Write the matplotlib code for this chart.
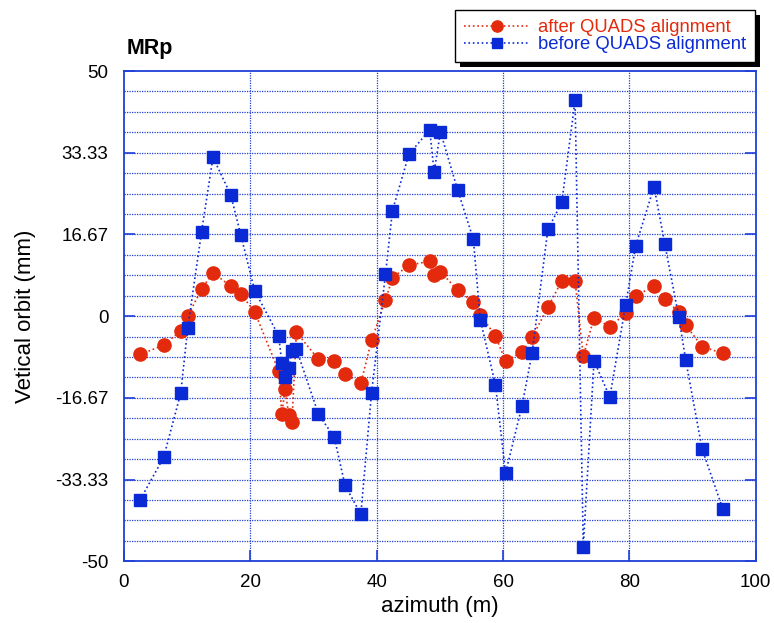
import matplotlib
matplotlib.use("Agg")
import matplotlib.pyplot as plt
from matplotlib.patches import Rectangle
import numpy as np

# donnees
azimuth = [2.6, 6.3, 9.0, 10.1, 12.3, 14.1, 16.9, 18.5, 20.7, 24.5, 25.0, 25.5, 26.1,
           26.6, 27.3, 30.8, 33.3, 35.0, 37.5, 39.2, 41.4, 42.5, 45.1, 48.4, 49.1, 50.1,
           52.8, 55.3, 56.4, 58.8, 60.4, 63.0, 64.6, 67.1, 69.3, 71.4, 72.7, 74.4, 76.9,
           79.4, 81.0, 83.9, 85.6, 87.8, 88.9, 91.5, 94.8]

after_quads = [-7.8, -5.9, -3.0, 0.0, 5.5, 8.9, 6.1, 4.5, 0.9, -11.2, -20.0, -14.8, -20.2,
               -21.6, -3.3, -8.8, -9.2, -11.8, -13.7, -4.9, 3.3, 7.8, 10.4, 11.2, 8.4, 9.1,
               5.3, 2.9, 0.3, -4.0, -9.2, -7.3, -4.3, 1.8, 7.2, 7.2, -8.2, -0.3, -2.2,
               0.6, 4.2, 6.1, 3.6, 0.8, -1.8, -6.2, -7.6]

before_quads = [-37.4, -28.8, -15.7, -2.5, 17.2, 32.4, 24.8, 16.6, 5.2, -4.0, -9.6, -12.4, -10.6,
                -7.2, -6.7, -20.0, -24.7, -34.5, -40.4, -15.6, 8.5, 21.5, 33.0, 38.0, 29.4, 37.6,
                25.8, 15.7, -0.7, -14.0, -32.0, -18.3, -7.5, 17.7, 23.2, 44.0, -47.0, -9.1, -16.5,
                2.3, 14.4, 26.4, 14.7, -0.1, -8.9, -27.1, -39.4]

y_ticks = [50, 33.33, 16.67, 0, -16.67, -33.33, -50]
y_labels = ["50", "33.33", "16.67", "0", "-16.67", "-33.33", "-50"]
x_ticks = [0, 20, 40, 60, 80, 100]

red = "#e32a0c"
blue = "#0a2ad6"
frame = "#1f3fd8"

plt.rcParams['font.family'] = ['Liberation Sans', 'DejaVu Sans']

fig = plt.figure(figsize=(7.74, 6.23), dpi=100)
ax = fig.add_axes([0.160, 0.099, 0.8165, 0.787])

l1, = ax.plot(azimuth, after_quads, ':', color=red, lw=1.2, marker='o', ms=9.5,
              mec=red, mfc=red, label="after QUADS alignment", zorder=3)
l2, = ax.plot(azimuth, before_quads, ':', color=blue, lw=1.2, marker='s', ms=8.5,
              mec=blue, mfc=blue, label="before QUADS alignment", zorder=4)

ax.set_xlim(0, 100)
ax.set_ylim(-50, 50)
ax.set_xticks(x_ticks)
ax.set_yticks(y_ticks)
ax.set_yticklabels(y_labels)

# grille pointillee bleue (pas de 100/24)
for yv in np.arange(-50, 50.01, 100 / 24)[1:-1]:
    ax.axhline(yv, color=frame, lw=0.9, ls=(0, (1, 1)), zorder=1)
for xv in x_ticks[1:-1]:
    ax.axvline(xv, color=frame, lw=0.9, ls=(0, (1, 1)), zorder=1)

for s in ax.spines.values():
    s.set_color(frame)
    s.set_linewidth(1.3)

ax.tick_params(axis='both', which='major', direction='in', length=8, width=1.2,
               color=frame, labelsize=13.5, pad=11, right=True, top=False)
ax.tick_params(axis='x', pad=9)

ax.set_xlabel("azimuth (m)", fontsize=16, labelpad=4)
ax.set_ylabel("Vetical orbit (mm)", fontsize=16, labelpad=14)

fig.text(0.163, 0.914, "MRp", fontsize=15.5, fontweight='bold')

leg = fig.legend(handles=[l1, l2], loc='upper right', bbox_to_anchor=(0.9755, 0.984),
                 fontsize=13.3, frameon=True, fancybox=False, framealpha=1,
                 edgecolor='black', numpoints=1, handlelength=3.6, borderpad=0.5,
                 labelspacing=0.0, handletextpad=0.4, borderaxespad=0,
                 labelcolor='linecolor', markerscale=0.85)
leg.get_frame().set_linewidth(1.0)
leg.set_zorder(10)

# ombre noire derriere la legende
fig.canvas.draw()
bb = leg.get_window_extent().transformed(fig.transFigure.inverted())
dx, dy = 5 / 774, 5 / 623
fig.patches.append(Rectangle((bb.x0 + dx, bb.y0 - dy), bb.width, bb.height,
                             transform=fig.transFigure, facecolor='black',
                             edgecolor='none', zorder=9))

fig.savefig("out.png", dpi=100)
